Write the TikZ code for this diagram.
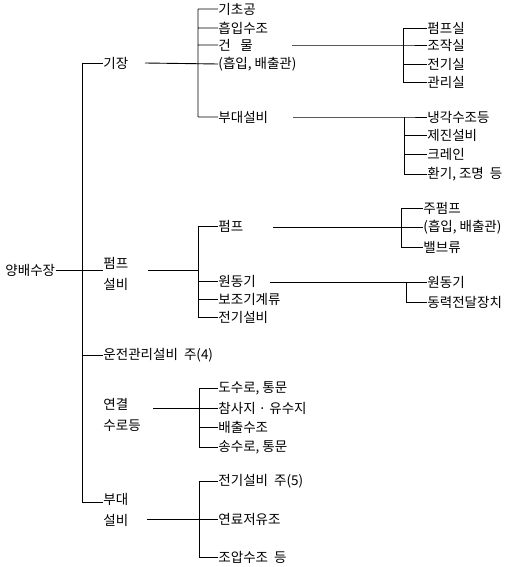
\documentclass[tikz,border=0pt]{standalone}
\usepackage{fontspec}
\setmainfont{Noto Sans CJK KR}
\usetikzlibrary{positioning}

\begin{document}
\begin{tikzpicture}[x=1pt, y=-1pt, line width=0.9pt,
        item/.style={anchor=west, inner sep=0pt, font=\fontsize{13.5}{21}\selectfont},
        group/.style={item, align=left}]
    \useasboundingbox (0,0) rectangle (527,567);

        % root and first level
        \node[item] (root) at (5, 270) {양배수장};
        \node[item] (gijang) at (103, 63) {기장};
        \node[group, anchor=north west] (pumpset) at (103, 257) {펌프\\설비};
        \node[item] (unjeon) at (103, 355) {운전관리설비~~주(4)};
        \node[group, anchor=north west] (suro) at (103, 398) {연결\\수로등};
        \node[group, anchor=north west] (budae) at (103, 493) {부대\\설비};

        % 기장
        \node[item] (gicho) at (218, 9) {기초공};
        \node[item] (heubip) at (218, 28) {흡입수조};
        \node[item] (geonmul) at (218, 45) {건\hspace{0.7em}물};
        \node[item] (baechul) at (218, 64) {(흡입,~배출관)};
        \node[item] (budaeseolbi) at (218, 117) {부대설비};
        \node[item] (pumpsil) at (427, 28) {펌프실};
        \node[item] (jojaksil) at (427, 45) {조작실};
        \node[item] (jeongisil) at (427, 64) {전기실};
        \node[item] (gwanrisil) at (427, 82) {관리실};
        \node[item] (naenggak) at (427, 117) {냉각수조등};
        \node[item] (jejin) at (427, 135) {제진설비};
        \node[item] (crane) at (427, 154) {크레인};
        \node[item] (hwangi) at (427, 174) {환기,~조명~~등};

        % 펌프설비
        \node[item] (pump) at (218, 226) {펌프};
        \node[item] (wondong) at (218, 281) {원동기};
        \node[item] (bojo) at (218, 299) {보조기계류};
        \node[item] (jeongi) at (218, 317) {전기설비};
        \node[item] (jupump) at (423, 208) {주펌프};
        \node[item] (gwan) at (423, 227) {(흡입,~배출관)};
        \node[item] (valve) at (423, 247) {밸브류};
        \node[item] (wondong2) at (427, 282) {원동기};
        \node[item] (dongryeok) at (427, 302) {동력전달장치};

        % 연결수로등
        \node[item] (dosuro) at (218, 388) {도수로,~통문};
        \node[item] (chimsa) at (218, 408) {참사지~·~유수지};
        \node[item] (baechulsu) at (218, 427) {배출수조};
        \node[item] (songsuro) at (218, 447) {송수로,~통문};

        % 부대설비
        \node[item] (jeongi5) at (218, 481) {전기설비~~주(5)};
        \node[item] (yeonryo) at (218, 519) {연료저유조};
        \node[item] (joap) at (218, 557) {조압수조~~등};

        % bracket lines
        \coordinate (trunk) at (82, 63);
        \coordinate (b1) at (198, 9);
        \coordinate (b2) at (403, 28);
        \coordinate (b3) at (404, 117);
        \coordinate (b4) at (198, 226);
        \coordinate (b5) at (401, 208);
        \coordinate (b6) at (406, 282);
        \coordinate (b7) at (199, 388);
        \coordinate (b8) at (199, 481);

        \draw (root.east) -- (100, 270)
            (trunk) -- (82, 502)
            (trunk) -- (gijang.west)
            (82, 270) -- (pumpset.west |- 0,270)
            (82, 355) -- (unjeon.west)
            (82, 502) -- (budae.west |- 0,502);

        \draw (b1) -- (b1 |- budaeseolbi.west)
            (145, 63) -- (baechul.west)
            (b1) -- (gicho.west)
            (b1 |- heubip.west) -- (heubip.west)
            (b1 |- geonmul.west) -- (geonmul.west)
            (b1 |- budaeseolbi.west) -- (budaeseolbi.west);

        \draw (b2) -- (b2 |- gwanrisil.west)
            (292, 45) -- (b2 |- jojaksil.west) -- (jojaksil.west)
            (b2) -- (pumpsil.west)
            (b2 |- jeongisil.west) -- (jeongisil.west)
            (b2 |- gwanrisil.west) -- (gwanrisil.west);

        \draw (b3) -- (b3 |- hwangi.west)
            (293, 117) -- (b3) -- (naenggak.west)
            (b3 |- jejin.west) -- (jejin.west)
            (b3 |- crane.west) -- (crane.west)
            (b3 |- hwangi.west) -- (hwangi.west);

        \draw (b4) -- (b4 |- jeongi.west)
            (148, 270) -- (b4 |- 0,270)
            (b4) -- (pump.west)
            (b4 |- wondong.west) -- (wondong.west)
            (b4 |- bojo.west) -- (bojo.west)
            (b4 |- jeongi.west) -- (jeongi.west);

        \draw (b5) -- (b5 |- valve.west)
            (273, 227) -- (gwan.west)
            (b5) -- (jupump.west)
            (b5 |- valve.west) -- (valve.west);

        \draw (b6) -- (b6 |- dongryeok.west)
            (270, 282) -- (wondong2.west)
            (b6 |- dongryeok.west) -- (dongryeok.west);

        \draw (b7) -- (b7 |- songsuro.west)
            (153, 408) -- (chimsa.west)
            (b7) -- (dosuro.west)
            (b7 |- baechulsu.west) -- (baechulsu.west)
            (b7 |- songsuro.west) -- (songsuro.west);

        \draw (b8) -- (b8 |- joap.west)
            (147, 519) -- (yeonryo.west)
            (b8) -- (jeongi5.west)
            (b8 |- joap.west) -- (joap.west);
    \end{tikzpicture}
\end{document}
